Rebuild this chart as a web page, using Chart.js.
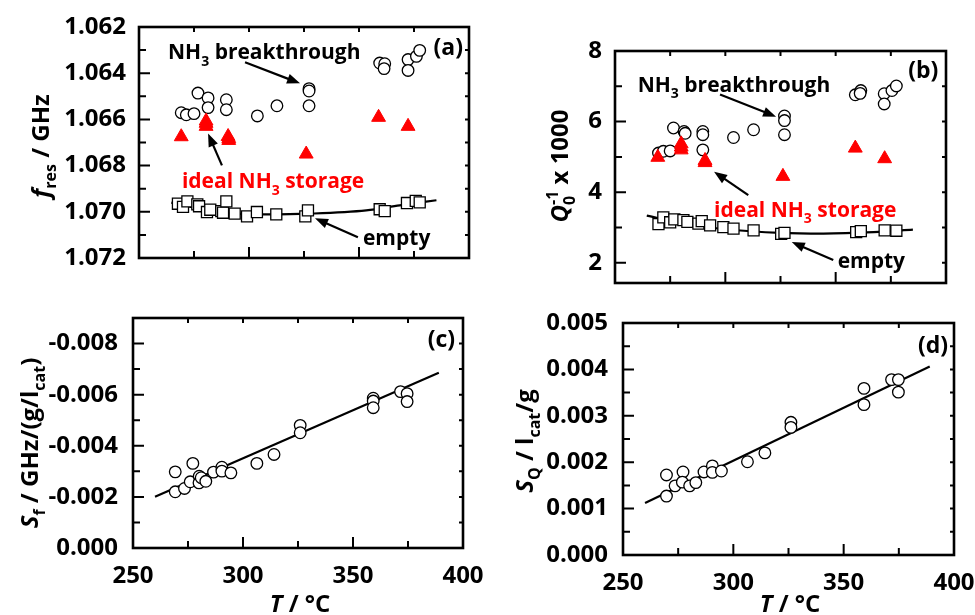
<!DOCTYPE html>
<html>
<head>
<meta charset="utf-8">
<script src="https://cdn.jsdelivr.net/npm/chart.js@4.4.1/dist/chart.umd.min.js"></script>
<style>
  html, body { margin: 0; padding: 0; background: #fff; }
  #wrap { position: relative; width: 975px; height: 615px; overflow: hidden; background: #fff; }
  canvas { position: absolute; }
</style>
</head>
<body>
<div id="wrap">
  <canvas id="chartA" width="487" height="300" style="left:0;top:0"></canvas>
  <canvas id="chartB" width="488" height="300" style="left:487px;top:0"></canvas>
  <canvas id="chartC" width="487" height="315" style="left:0;top:300px"></canvas>
  <canvas id="chartD" width="488" height="315" style="left:487px;top:300px"></canvas>
</div>
<script>
// (a) resonance frequency / GHz
const tA_break = [269.2, 271.5, 275.0, 276.8, 281.4, 281.4, 289.7, 289.7, 303.8, 312.7, 327.3, 327.3, 327.3, 359.4, 361.7, 361.4, 372.3, 372.3, 376.1, 377.6];
const fA_break = [1.06571, 1.06580, 1.06575, 1.06486, 1.06507, 1.06549, 1.06515, 1.06558, 1.06585, 1.06541, 1.06467, 1.06477, 1.06541, 1.06356, 1.06359, 1.06380, 1.06341, 1.06388, 1.06327, 1.06301];
const tA_store = [269.2, 280.5, 280.5, 280.5, 290.5, 290.8, 290.8, 326.0, 358.9, 372.3];
const fA_store = [1.06675, 1.06607, 1.06617, 1.06630, 1.06674, 1.06683, 1.06691, 1.06750, 1.06591, 1.06630];
const tA_empty = [267.7, 270.0, 272.0, 276.5, 277.3, 280.9, 282.4, 287.4, 288.2, 289.7, 293.5, 299.1, 303.6, 312.4, 325.6, 326.8, 359.4, 361.7, 371.8, 375.8, 377.6];
const fA_empty = [1.06965, 1.06979, 1.06955, 1.06968, 1.06976, 1.07001, 1.06991, 1.06997, 1.07004, 1.06955, 1.07008, 1.07020, 1.07001, 1.07011, 1.07020, 1.06994, 1.06989, 1.06997, 1.06962, 1.06953, 1.06959];
const tA_fit = [264.7, 277.6, 292.7, 307.9, 327.6, 353.3, 368.5, 385.2];
const fA_fit = [1.06960, 1.06986, 1.07008, 1.07011, 1.07008, 1.06994, 1.06972, 1.06950];

// (b) inverse quality factor x 1000
const tB_break = [269.7, 271.9, 275.0, 276.5, 281.3, 281.8, 289.8, 289.8, 289.8, 303.7, 312.8, 326.8, 326.8, 326.8, 358.9, 361.4, 361.1, 372.0, 372.0, 375.5, 377.5];
const qB_break = [5.11, 5.16, 5.17, 5.82, 5.72, 5.67, 5.72, 5.63, 5.20, 5.55, 5.77, 6.16, 6.03, 5.63, 6.76, 6.88, 6.80, 6.79, 6.50, 6.88, 7.01];
const tB_store = [269.4, 280.0, 280.0, 280.0, 290.8, 290.8, 326.1, 358.9, 372.2];
const qB_store = [4.99, 5.37, 5.28, 5.20, 4.90, 4.84, 4.45, 5.25, 4.95];
const tB_empty = [269.7, 271.9, 275.0, 276.9, 281.0, 282.8, 287.8, 289.3, 293.1, 299.1, 303.7, 312.8, 325.3, 326.8, 359.3, 361.4, 372.2, 377.5];
const qB_empty = [3.10, 3.29, 3.15, 3.23, 3.21, 3.16, 3.11, 3.18, 3.06, 3.01, 2.97, 2.92, 2.82, 2.85, 2.87, 2.90, 2.92, 2.91];
const tB_fit = [264.4, 284.0, 299.1, 324.9, 344.5, 367.2, 385.0];
const qB_fit = [3.34, 3.08, 2.96, 2.85, 2.83, 2.87, 2.94];

// (c) frequency sensitivity
const tC = [269.2, 269.2, 273.4, 276.0, 277.2, 280.1, 280.0, 281.0, 283.1, 286.6, 290.4, 290.4, 294.5, 306.3, 314.1, 326.0, 326.0, 359.2, 359.2, 359.2, 371.6, 374.6, 374.6];
const sC = [-0.00298, -0.00220, -0.00233, -0.00259, -0.00331, -0.00281, -0.00255, -0.00275, -0.00261, -0.00297, -0.00316, -0.00301, -0.00294, -0.00331, -0.00366, -0.00480, -0.00451, -0.00586, -0.00575, -0.00549, -0.00612, -0.00604, -0.00573];
const tC_fit = [260, 389];
const sC_fit = [-0.00201, -0.00686];

// (d) quality factor sensitivity
const tD = [269.7, 269.7, 273.6, 277.2, 276.9, 280.2, 283.0, 286.7, 290.5, 290.5, 294.6, 306.4, 314.3, 326.1, 326.1, 359.2, 359.2, 371.7, 374.8, 374.8];
const sD = [0.001725, 0.00127, 0.00149, 0.00179, 0.00157, 0.00149, 0.00156, 0.00179, 0.00192, 0.00178, 0.00181, 0.00201, 0.00220, 0.00286, 0.00275, 0.00359, 0.00324, 0.00378, 0.00378, 0.00351];
const tD_fit = [260, 389];
const sD_fit = [0.00112, 0.00406];

// axis ticks
const xTickVals = [275, 300, 325, 350, 375];
const xLabelVals = [250, 300, 350, 400];
const yA_major = [1.062, 1.064, 1.066, 1.068, 1.070, 1.072];
const yA_minor = [1.063, 1.065, 1.067, 1.069, 1.071];
const yB_major = [2, 4, 6, 8];
const yB_minor = [3, 5, 7];
const yC_major = [-0.008, -0.006, -0.004, -0.002, 0];
const yC_minor = [-0.007, -0.005, -0.003, -0.001];
const yD_major = [0, 0.001, 0.002, 0.003, 0.004, 0.005];
const yD_minor = [0.0005, 0.0015, 0.0025, 0.0035, 0.0045];

const FONT = "'Open Sans', 'DejaVu Sans', sans-serif";
const RED = '#ff0000';

const pts = (xs, ys) => xs.map((x, i) => ({ x, y: ys[i] }));

function partFont(p, size) {
    const small = p.s === 'sub' || p.s === 'sup';
    const px = small ? Math.round(size * 0.66) : size;
    return (p.i ? 'italic ' : '') + 'bold ' + px + 'px ' + FONT;
}

function richWidth(ctx, parts, size) {
    let w = 0;
    parts.forEach(p => {
        ctx.font = partFont(p, size);
        if (!p.keep) w += ctx.measureText(p.t).width;
    });
    return w;
}

// Draw text made of pieces (italic, subscript, superscript)
function drawRich(ctx, parts, x, y, size, color, align) {
    ctx.save();
    ctx.fillStyle = color;
    ctx.textBaseline = 'alphabetic';
    ctx.textAlign = 'left';
    const w = richWidth(ctx, parts, size);
    let cx = x;
    if (align === 'center') cx = x - w / 2;
    else if (align === 'right') cx = x - w;
    parts.forEach(p => {
        ctx.font = partFont(p, size);
        let dy = 0;
        if (p.s === 'sub') dy = size * 0.3;
        if (p.s === 'sup') dy = -size * 0.42;
        ctx.fillText(p.t, cx, y + dy);
        if (!p.keep) cx += ctx.measureText(p.t).width;
    });
    ctx.restore();
}

function drawArrow(ctx, x1, y1, x2, y2) {
    const ang = Math.atan2(y2 - y1, x2 - x1);
    const len = 13, half = 5;
    const c = Math.cos(ang), s = Math.sin(ang);
    ctx.save();
    ctx.strokeStyle = '#000';
    ctx.fillStyle = '#000';
    ctx.lineWidth = 2.2;
    ctx.beginPath();
    ctx.moveTo(x1, y1);
    ctx.lineTo(x2 - c * len * 0.7, y2 - s * len * 0.7);
    ctx.stroke();
    ctx.beginPath();
    ctx.moveTo(x2, y2);
    ctx.lineTo(x2 - c * len + s * half, y2 - s * len - c * half);
    ctx.lineTo(x2 - c * len - s * half, y2 - s * len + c * half);
    ctx.closePath();
    ctx.fill();
    ctx.restore();
}

// Frame, inward ticks, annotations and axis titles
const decorPlugin = {
    id: 'decor',
    afterDatasetsDraw(chart, args, opts) {
        const { ctx, chartArea: a, scales: { x, y } } = chart;
        ctx.save();
        ctx.strokeStyle = '#000';
        ctx.lineWidth = 2;
        ctx.beginPath();
        opts.xTicks.forEach(v => {
            const px = x.getPixelForValue(v);
            const len = v % 50 === 0 ? 11 : 7;
            ctx.moveTo(px, a.bottom);
            ctx.lineTo(px, a.bottom - len);
            ctx.moveTo(px, a.top);
            ctx.lineTo(px, a.top + 5);
        });
        opts.yMajor.concat(opts.yMinor).forEach((v, i) => {
            const py = y.getPixelForValue(v);
            const len = i < opts.yMajor.length ? 11 : 7;
            ctx.moveTo(a.left, py);
            ctx.lineTo(a.left + len, py);
            ctx.moveTo(a.right, py);
            ctx.lineTo(a.right - 4, py);
        });
        ctx.stroke();
        ctx.lineWidth = 2.6;
        ctx.strokeRect(a.left, a.top, a.right - a.left, a.bottom - a.top);
        ctx.restore();

        (opts.arrows || []).forEach(ar => {
            drawArrow(ctx, x.getPixelForValue(ar.from[0]), y.getPixelForValue(ar.from[1]),
                x.getPixelForValue(ar.to[0]), y.getPixelForValue(ar.to[1]));
        });
        (opts.texts || []).forEach(t => {
            drawRich(ctx, t.parts, x.getPixelForValue(t.at[0]), y.getPixelForValue(t.at[1]),
                t.size, t.color || '#000', t.align || 'left');
        });
        if (opts.yTitle) {
            ctx.save();
            ctx.translate(opts.yTitle.x, opts.yTitle.y);
            ctx.rotate(-Math.PI / 2);
            drawRich(ctx, opts.yTitle.parts, 0, 0, 24, '#000', 'center');
            ctx.restore();
        }
        if (opts.xTitle) {
            drawRich(ctx, opts.xTitle.parts, opts.xTitle.x, opts.xTitle.y, 24, '#000', 'center');
        }
    }
};

function makeChart(id, box, datasets, xOpt, yOpt, decor) {
    const cv = document.getElementById(id);
    const W = cv.width, H = cv.height;
    const tickFont = { family: FONT, size: 24, weight: 'bold' };
    return new Chart(cv, {
        type: 'scatter',
        data: { datasets },
        options: {
            responsive: false,
            animation: false,
            layout: { padding: { left: 0, top: box.top, right: W - box.right, bottom: 0 } },
            plugins: { legend: { display: false }, tooltip: { enabled: false }, decor },
            scales: {
                x: {
                    type: 'linear',
                    min: 250,
                    max: 400,
                    grid: { display: false, drawTicks: false },
                    border: { display: false },
                    ticks: {
                        display: xOpt.show,
                        font: tickFont,
                        color: '#000',
                        padding: 14,
                        maxRotation: 0,
                        autoSkip: false,
                        callback: v => String(v)
                    },
                    afterBuildTicks: s => { s.ticks = xLabelVals.map(v => ({ value: v })); },
                    afterFit: s => { s.height = H - box.bottom; s.paddingLeft = 0; s.paddingRight = 0; }
                },
                y: {
                    type: 'linear',
                    min: yOpt.min,
                    max: yOpt.max,
                    reverse: !!yOpt.reverse,
                    grid: { display: false, drawTicks: false },
                    border: { display: false },
                    ticks: {
                        font: tickFont,
                        color: '#000',
                        padding: yOpt.pad,
                        autoSkip: false,
                        callback: v => Math.abs(v) < 1e-12 ? (0).toFixed(yOpt.dec) : v.toFixed(yOpt.dec)
                    },
                    afterBuildTicks: s => { s.ticks = decor.yMajor.map(v => ({ value: v })); },
                    afterFit: s => { s.width = box.left; s.paddingTop = 0; s.paddingBottom = 0; }
                }
            }
        },
        plugins: [decorPlugin]
    });
}

const circleSet = (data) => ({ data, pointStyle: 'circle', pointRadius: 5.8, backgroundColor: '#fff', borderColor: '#000', borderWidth: 1.3, order: 2 });
const triSet = (data) => ({ data, pointStyle: 'triangle', pointRadius: 8, backgroundColor: RED, borderColor: RED, borderWidth: 1, order: 1 });
const squareSet = (data) => ({ data, pointStyle: 'rect', pointRadius: 7.8, backgroundColor: '#fff', borderColor: '#000', borderWidth: 1.3, order: 3 });
const fitSet = (data, curved) => ({ data, showLine: true, pointRadius: 0, borderColor: '#000', borderWidth: 2.2, cubicInterpolationMode: curved ? 'monotone' : 'default', order: 4 });

const NH3_BREAK = [{ t: 'NH' }, { t: '3', s: 'sub' }, { t: ' breakthrough' }];
const NH3_STORE = [{ t: 'ideal NH' }, { t: '3', s: 'sub' }, { t: ' storage' }];

// (a)
makeChart('chartA', { left: 139, right: 469, top: 27, bottom: 258 },
    [circleSet(pts(tA_break, fA_break)), triSet(pts(tA_store, fA_store)),
     squareSet(pts(tA_empty, fA_empty)), fitSet(pts(tA_fit, fA_fit), true)],
    { show: false }, { min: 1.062, max: 1.072, reverse: true, dec: 3, pad: 13 },
    {
        xTicks: xTickVals, yMajor: yA_major, yMinor: yA_minor,
        texts: [
            { parts: NH3_BREAK, at: [263.2, 1.0634], size: 21 },
            { parts: NH3_STORE, at: [269.5, 1.06898], size: 21, color: RED },
            { parts: [{ t: 'empty' }], at: [351.8, 1.07145], size: 21 },
            { parts: [{ t: '(a)' }], at: [397.3, 1.06323], size: 23, align: 'right' }
        ],
        arrows: [
            { from: [298.2, 1.06353], to: [323.2, 1.06444] },
            { from: [287.7, 1.06799], to: [281.4, 1.06661] },
            { from: [349.5, 1.07110], to: [330.0, 1.07028] }
        ],
        yTitle: { x: 49, y: 146, parts: [{ t: 'f', i: true }, { t: 'res', s: 'sub' }, { t: ' / GHz' }] }
    });

// (b)
makeChart('chartB', { left: 128, right: 459, top: 51, bottom: 283 },
    [circleSet(pts(tB_break, qB_break)), triSet(pts(tB_store, qB_store)),
     squareSet(pts(tB_empty, qB_empty)), fitSet(pts(tB_fit, qB_fit), true)],
    { show: false }, { min: 1.43, max: 8, dec: 0, pad: 13 },
    {
        xTicks: xTickVals, yMajor: yB_major, yMinor: yB_minor,
        texts: [
            { parts: NH3_BREAK, at: [260.3, 6.85], size: 21 },
            { parts: NH3_STORE, at: [294.9, 3.31], size: 21, color: RED },
            { parts: [{ t: 'empty' }], at: [350.9, 1.85], size: 21 },
            { parts: [{ t: '(b)' }], at: [396.5, 7.23], size: 23, align: 'right' }
        ],
        arrows: [
            { from: [297.6, 6.77], to: [323.0, 6.14] },
            { from: [310.4, 3.92], to: [294.9, 4.58] },
            { from: [348.9, 2.08], to: [330.1, 2.59] }
        ],
        yTitle: { x: 81, y: 166, parts: [{ t: 'Q', i: true }, { t: '0', s: 'sub', keep: true }, { t: '-1', s: 'sup' }, { t: ' x 1000' }] }
    });

// (c)
makeChart('chartC', { left: 133, right: 463, top: 18, bottom: 248 },
    [circleSet(pts(tC, sC)), fitSet(pts(tC_fit, sC_fit), false)],
    { show: true }, { min: -0.009, max: 0, reverse: true, dec: 3, pad: 15 },
    {
        xTicks: xTickVals, yMajor: yC_major, yMinor: yC_minor,
        texts: [{ parts: [{ t: '(c)' }], at: [396.4, -0.00788], size: 23, align: 'right' }],
        yTitle: { x: 38, y: 143, parts: [{ t: 'S', i: true }, { t: 'f', s: 'sub' }, { t: ' / GHz/(g/l' }, { t: 'cat', s: 'sub' }, { t: ')' }] },
        xTitle: { x: 300, y: 312, parts: [{ t: 'T', i: true }, { t: ' / °C' }] }
    });

// (d)
makeChart('chartD', { left: 136, right: 467, top: 23, bottom: 255 },
    [circleSet(pts(tD, sD)), fitSet(pts(tD_fit, sD_fit), false)],
    { show: true }, { min: 0, max: 0.005, dec: 3, pad: 15 },
    {
        xTicks: xTickVals, yMajor: yD_major, yMinor: yD_minor,
        texts: [{ parts: [{ t: '(d)' }], at: [397.3, 0.00435], size: 23, align: 'right' }],
        yTitle: { x: 46, y: 141, parts: [{ t: 'S', i: true }, { t: 'Q', s: 'sub' }, { t: ' / l' }, { t: 'cat', s: 'sub' }, { t: '/g' }] },
        xTitle: { x: 303, y: 312, parts: [{ t: 'T', i: true }, { t: ' / °C' }] }
    });
</script>
</body>
</html>
